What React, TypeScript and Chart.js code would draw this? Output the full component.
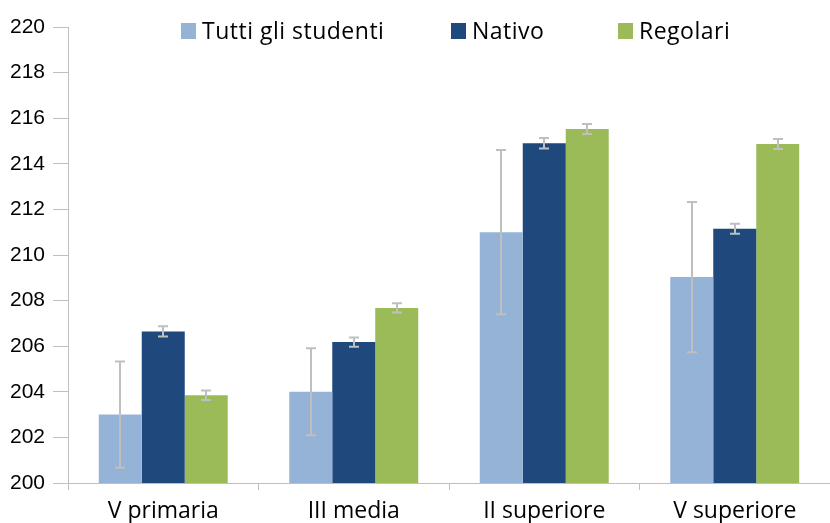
import React, { useEffect, useRef } from "react";
import { Chart, registerables } from "chart.js";

Chart.register(...registerables);

const categories = ["V primaria", "III media", "II superiore", "V superiore"];
const seriesNames = ["Tutti gli studenti", "Nativo", "Regolari"];
const tuttiValues = [203.0, 204.0, 211.0, 209.03];
const tuttiErrors = [2.33, 1.91, 3.6, 3.29];
const nativoValues = [206.65, 206.18, 214.9, 211.15];
const nativoErrors = [0.23, 0.2, 0.23, 0.22];
const regolariValues = [203.85, 207.68, 215.53, 214.87];
const regolariErrors = [0.21, 0.2, 0.22, 0.22];
const seriesColors = ["#95B3D7", "#1F497D", "#9BBB59"];
const yTicks = [200, 202, 204, 206, 208, 210, 212, 214, 216, 218, 220];

const AXIS_COLOR = "#BFBFBF";
const TEXT_FONT = "'Open Sans', 'DejaVu Sans', sans-serif";
const NUM_FONT = "'Liberation Sans', Arial, sans-serif";
const LEGEND_BOX_X = [181, 451, 618];

const errorBarPlugin = {
  id: "errorBars",
  afterDatasetsDraw(chart: any) {
    const ctx = chart.ctx;
    const yScale = chart.scales.y;
    ctx.save();
    ctx.strokeStyle = "#BFBFBF";
    ctx.lineWidth = 2;
    chart.data.datasets.forEach((ds: any, i: number) => {
      const meta = chart.getDatasetMeta(i);
      meta.data.forEach((el: any, j: number) => {
        const v = ds.data[j];
        const e = ds.errors[j];
        const x = Math.round(el.x);
        const yTop = yScale.getPixelForValue(v + e);
        const yBot = yScale.getPixelForValue(v - e);
        const cap = 5;
        ctx.beginPath();
        ctx.moveTo(x, yTop);
        ctx.lineTo(x, yBot);
        ctx.moveTo(x - cap, yTop);
        ctx.lineTo(x + cap, yTop);
        ctx.moveTo(x - cap, yBot);
        ctx.lineTo(x + cap, yBot);
        ctx.stroke();
      });
    });
    ctx.restore();
  },
};

const legendPlugin = {
  id: "customLegend",
  afterDraw(chart: any) {
    const ctx = chart.ctx;
    ctx.save();
    ctx.font = `23px ${TEXT_FONT}`;
    ctx.textBaseline = "alphabetic";
    ctx.textAlign = "left";
    (ctx as any).letterSpacing = "0.5px";
    const baseline = 39;
    const box = 15;
    chart.data.datasets.forEach((ds: any, i: number) => {
      const x = LEGEND_BOX_X[i];
      ctx.fillStyle = ds.backgroundColor;
      ctx.fillRect(x, baseline - 16, box, 16);
      ctx.fillStyle = "#000000";
      ctx.fillText(ds.label, x + box + 6, baseline);
    });
    ctx.restore();
  },
};

export default function App() {
  const canvasRef = useRef<HTMLCanvasElement | null>(null);

  useEffect(() => {
    if (!canvasRef.current) return;
    const values = [tuttiValues, nativoValues, regolariValues];
    const errors = [tuttiErrors, nativoErrors, regolariErrors];
    const chart = new Chart(canvasRef.current, {
      type: "bar",
      data: {
        labels: categories,
        datasets: seriesNames.map((name, i) => ({
          label: name,
          data: values[i],
          errors: errors[i],
          backgroundColor: seriesColors[i],
          borderWidth: 0,
          barPercentage: 1,
          categoryPercentage: 0.677,
        })) as any,
      },
      options: {
        responsive: false,
        animation: false,
        devicePixelRatio: 1,
        layout: { padding: { top: 27, right: 0, bottom: 0, left: 0 } },
        plugins: {
          legend: { display: false },
          tooltip: { enabled: false },
        },
        scales: {
          x: {
            grid: {
              display: true,
              drawOnChartArea: false,
              drawTicks: true,
              tickLength: 7,
              color: AXIS_COLOR,
              offset: true,
            },
            border: { display: true, color: AXIS_COLOR },
            ticks: {
              font: { family: TEXT_FONT, size: 23 },
              color: "#000000",
              padding: 8,
              maxRotation: 0,
            },
            afterFit(scale: any) {
              scale.height = 40;
            },
          },
          y: {
            min: 200,
            max: 220,
            afterBuildTicks(scale: any) {
              scale.ticks = yTicks.map((v) => ({ value: v }));
            },
            grid: {
              display: true,
              drawOnChartArea: false,
              drawTicks: true,
              tickLength: 15,
              color: AXIS_COLOR,
            },
            border: { display: true, color: AXIS_COLOR },
            ticks: {
              font: { family: NUM_FONT, size: 21 },
              color: "#000000",
              padding: 8,
            },
            afterFit(scale: any) {
              scale.width = 68;
            },
          },
        },
      },
      plugins: [errorBarPlugin, legendPlugin],
    });
    return () => chart.destroy();
  }, []);

  return (
    <div style={{ position: "absolute", left: 0, top: 0, width: 830, height: 523 }}>
      <canvas ref={canvasRef} width={830} height={523} style={{ width: 830, height: 523, display: "block" }} />
    </div>
  );
}
